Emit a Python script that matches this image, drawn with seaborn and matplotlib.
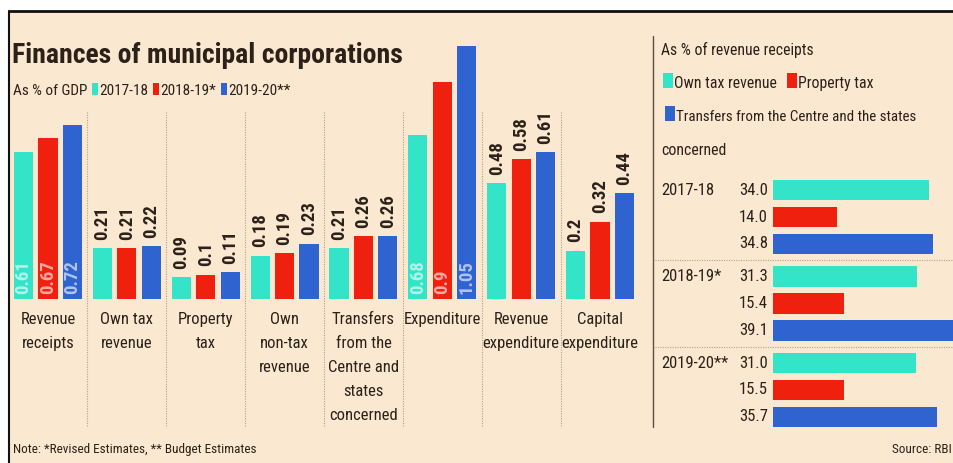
import matplotlib
matplotlib.use("Agg")
import numpy as np
import pandas as pd
import seaborn as sns
import matplotlib.pyplot as plt
from matplotlib import font_manager as fm
from matplotlib.patches import Rectangle
from matplotlib.lines import Line2D
from matplotlib.transforms import blended_transform_factory

# ---------------- data ----------------
categories = ["Revenue\nreceipts", "Own tax\nrevenue", "Property\ntax",
              "Own\nnon-tax\nrevenue",
              "Transfers\nfrom the\nCentre and\nstates\nconcerned",
              "Expenditure", "Revenue\nexpenditure", "Capital\nexpenditure"]
years = ["2017-18", "2018-19*", "2019-20**"]
gdp_2017_18 = [0.61, 0.21, 0.09, 0.18, 0.21, 0.68, 0.48, 0.20]
gdp_2018_19 = [0.67, 0.21, 0.10, 0.19, 0.26, 0.90, 0.58, 0.32]
gdp_2019_20 = [0.72, 0.22, 0.11, 0.23, 0.26, 1.05, 0.61, 0.44]

share_series = ["Own tax revenue", "Property tax",
                "Transfers from the Centre and the states"]
own_tax_share = [34.0, 31.3, 31.0]
property_tax_share = [14.0, 15.4, 15.5]
transfers_share = [34.8, 39.1, 35.7]

# ---------------- style ----------------
BG = "#FBE8D1"
TEXT = "#2B2119"
CYAN = "#33E4C8"
RED = "#F0200F"
BLUE = "#2E63D0"
palette = [CYAN, RED, BLUE]
inside_label_groups = {0, 5}

sns.set_style("white")
names = {f.name for f in fm.fontManager.ttflist}
NARROW = None
for cand in ["Liberation Sans Narrow", "Roboto Condensed", "Open Sans Condensed"]:
    if cand in names:
        NARROW = {"family": cand}
        break
if NARROW is None:
    NARROW = {"family": "DejaVu Sans", "stretch": "condensed"}
plt.rcParams["font.family"] = [NARROW["family"], "DejaVu Sans"]

W, H = 954, 463


def fx(px):
    return px / W


def fy(py):
    return 1 - py / H


fig = plt.figure(figsize=(W / 100, H / 100), dpi=100)
fig.patch.set_facecolor("white")
fig.patches.append(Rectangle((fx(9), 0), 1 - fx(9), fy(11), transform=fig.transFigure,
                             facecolor=BG, edgecolor="none", zorder=-5))
fig.add_artist(Line2D([fx(9), 1], [fy(11), fy(11)], color="#111111", lw=2))
fig.add_artist(Line2D([fx(9), fx(9)], [0, fy(11)], color="#111111", lw=1.5))

# ---------------- left panel: % of GDP ----------------
gdp = pd.DataFrame({
    "category": np.repeat(categories, 3),
    "year": years * len(categories),
    "value": np.column_stack([gdp_2017_18, gdp_2018_19, gdp_2019_20]).ravel(),
})
unit = 78.86
ax = fig.add_axes([fx(48 - unit / 2), fy(299), unit * 8 / W, 1.1 * 241 / H])
sns.barplot(data=gdp, x="category", y="value", hue="year", hue_order=years,
            order=categories, palette=palette, saturation=1, width=0.93, gap=0.22,
            legend=False, ax=ax, zorder=3, linewidth=0, edgecolor="none")
ax.set_xlim(-0.5, 7.5)
ax.set_ylim(0, 1.1)
ax.set_axis_off()

series_vals = [gdp_2017_18, gdp_2018_19, gdp_2019_20]
for j, cont in enumerate(ax.containers):
    for i, bar in enumerate(cont):
        v = series_vals[j][i]
        xc = bar.get_x() + bar.get_width() / 2
        if i in inside_label_groups:
            ax.text(xc, 0.022, f"{v:g}", rotation=90, ha="center", va="bottom",
                    color="white", alpha=0.62, fontsize=13.5, fontweight="bold",
                    zorder=5, **NARROW)
        else:
            ax.text(xc, bar.get_height() + 0.035, f"{v:g}", rotation=90,
                    ha="center", va="bottom", color=TEXT, fontsize=13.5,
                    fontweight="bold", zorder=5, **NARROW)

for i, cat in enumerate(categories):
    ax.text(i, -0.055, cat, ha="center", va="top", fontsize=12, color=TEXT,
            linespacing=1.75, clip_on=False, **NARROW)

div_tr = blended_transform_factory(ax.transData, fig.transFigure)
for k in range(7):
    ax.plot([k + 0.5, k + 0.5], [fy(112), fy(427)], transform=div_tr,
            ls=(0, (1, 1.2)), lw=0.8, color="#B3A18C", clip_on=False, zorder=1)

# ---------------- titles ----------------
renderer = fig.canvas.get_renderer()


def legend_row(x0, y_base, items, size, sq_w, sq_h, gap, pad=1):
    x = x0
    for color, label in items:
        if color is not None:
            fig.patches.append(Rectangle((fx(x), fy(y_base)), sq_w / W, sq_h / H,
                                         transform=fig.transFigure, facecolor=color,
                                         edgecolor="none"))
            x += sq_w + pad
        t = fig.text(fx(x), fy(y_base), label, ha="left", va="baseline",
                     fontsize=size, color=TEXT, **NARROW)
        x = t.get_window_extent(renderer).x1 + gap


fig.text(fx(12), fy(63), "Finances of municipal corporations", ha="left",
         va="baseline", fontsize=20, fontweight="bold", color=TEXT, **NARROW)
legend_row(13, 95, [(None, "As % of GDP"), (CYAN, "2017-18"), (RED, "2018-19*"),
                    (BLUE, "2019-20**")], 11, 6, 12, 5)

# ---------------- right panel: % of revenue receipts ----------------
fig.add_artist(Line2D([fx(653), fx(653)], [fy(36), fy(427)], color="#5E4E40", lw=1))

legend_row(661, 55, [(None, "As % of revenue receipts")], 11.3, 0, 0, 0)
legend_row(663, 88, [(CYAN, "Own tax revenue"), (RED, "Property tax")], 11.3, 10, 15, 10)
legend_row(665, 121, [(BLUE, "Transfers from the Centre and the states")], 10.8, 10, 15, 0)
legend_row(661, 155, [(None, "concerned")], 11.3, 0, 0, 0)

shares = pd.DataFrame({
    "year": np.repeat(years, 3),
    "series": share_series * len(years),
    "share": np.column_stack([own_tax_share, property_tax_share, transfers_share]).ravel(),
})
gunit = 86.5
ax2 = fig.add_axes([fx(773), fy(217 + 2.5 * gunit), (W - 773) / W, 3 * gunit / H])
sns.barplot(data=shares, y="year", x="share", hue="series", order=years,
            hue_order=share_series, orient="h", palette=palette, saturation=1,
            width=0.936, gap=0.24, legend=False, ax=ax2, linewidth=0, edgecolor="none")
ax2.set_xlim(0, 39.35)
ax2.set_ylim(2.5, -0.5)
ax2.set_axis_off()

share_vals = [own_tax_share, property_tax_share, transfers_share]
lab_tr = blended_transform_factory(fig.transFigure, ax2.transData)
for j, cont in enumerate(ax2.containers):
    for i, bar in enumerate(cont):
        yc = bar.get_y() + bar.get_height() / 2
        ax2.text(fx(768), yc, f"{share_vals[j][i]:.1f}", transform=lab_tr,
                 ha="right", va="center", fontsize=12, color=TEXT, clip_on=False,
                 **NARROW)
        if j == 0:
            ax2.text(fx(661), yc, years[i], transform=lab_tr, ha="left",
                     va="center", fontsize=12, color=TEXT, clip_on=False, **NARROW)

for b in (0.5, 1.5):
    ax2.plot([fx(655), 1], [b, b], transform=lab_tr, ls=(0, (1, 1.2)), lw=0.8,
             color="#B3A18C", clip_on=False)

# ---------------- footer ----------------
fig.text(fx(13), fy(453), "Note: *Revised Estimates, ** Budget Estimates", ha="left",
         va="baseline", fontsize=9.5, color=TEXT, **NARROW)
fig.text(fx(952), fy(453), "Source: RBI", ha="right", va="baseline", fontsize=9.5,
         color=TEXT, **NARROW)

fig.savefig("out.png", dpi=100, facecolor=fig.get_facecolor())
